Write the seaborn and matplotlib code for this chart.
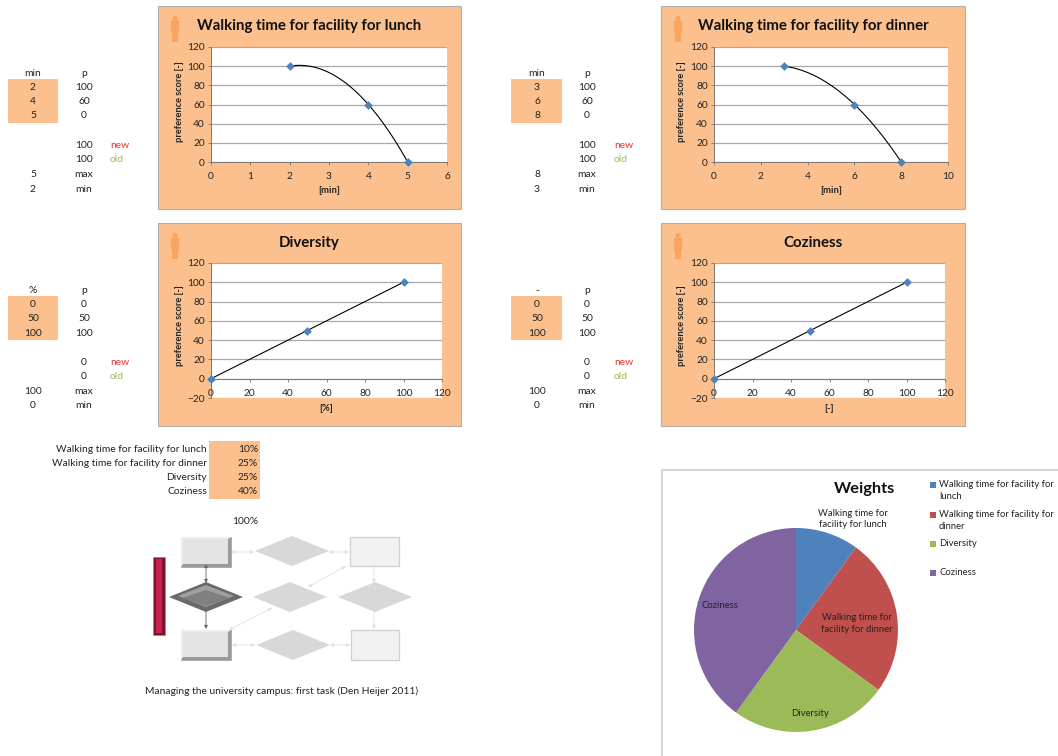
import numpy as np
import matplotlib
matplotlib.use("Agg")
import matplotlib.pyplot as plt
from matplotlib.patches import Rectangle, Polygon, Circle, FancyBboxPatch
import seaborn as sns

sns.set_theme(style="white")
plt.rcParams["font.family"] = ["Lato", "DejaVu Sans"]

W, H = 1058, 756
PANEL = "#FBC08D"
ICON = "#F9A55F"
TEXT = "#222222"
BLUE = "#4F81BD"
CELL_SIZE = 7.35

# Preference curves
lunch_min = [2, 4, 5]
lunch_score = [100, 60, 0]
dinner_min = [3, 6, 8]
dinner_score = [100, 60, 0]
diversity_pct = [0, 50, 100]
diversity_score = [0, 50, 100]
coziness_val = [0, 50, 100]
coziness_score = [0, 50, 100]

# Weights
criteria = ["Walking time for facility for lunch", "Walking time for facility for dinner",
            "Diversity", "Coziness"]
weights = [10, 25, 25, 40]
pie_colors = ["#4F81BD", "#C0504D", "#9BBB59", "#8064A2"]

# Side tables next to each chart
lunch_extra = [100, 100, 5, 2]
dinner_extra = [100, 100, 8, 3]
diversity_extra = [0, 0, 100, 0]
coziness_extra = [0, 0, 100, 0]


def pixel_axes(x0, y0, x1, y1, **kw):
    return fig.add_axes([x0 / W, 1 - y1 / H, (x1 - x0) / W, (y1 - y0) / H], **kw)


def trend_curve(xs, ys, degree):
    """Polynomial trendline through the points, spanning their x range."""
    coeffs = np.polyfit(xs, ys, degree)
    grid = np.linspace(min(xs), max(xs), 120)
    return grid, np.polyval(coeffs, grid)


def person(cx, top):
    bg.add_patch(Circle((cx, top + 2.5), 2.6, color=ICON, lw=0))
    bg.add_patch(FancyBboxPatch((cx - 3.5, top + 5.5), 7, 11, boxstyle="round,pad=0.6",
                                color=ICON, lw=0))
    bg.add_patch(Rectangle((cx - 2.6, top + 16), 5.2, 9.5, color=ICON, lw=0))


def chart(panel, plot, title, title_x, xs, ys, xlim, xstep, ylim, xlabel, xlabel_x, degree):
    px0, py0, px1, py1 = panel
    bg.add_patch(Rectangle((px0, py0), px1 - px0, py1 - py0, fc=PANEL, ec="#B5AEA6", lw=0.8))
    person(px0 + 17, py0 + 10)
    bg.text(title_x, py0 + 20, title, ha="center", va="center", fontsize=10.8,
            fontweight="bold", color="#111111")
    ax = pixel_axes(*plot, zorder=2)
    ax.set_facecolor("white")
    cx, cy = trend_curve(xs, ys, degree)
    sns.lineplot(x=cx, y=cy, ax=ax, color="black", lw=0.8, sort=False, estimator=None, zorder=4)
    sns.scatterplot(x=xs, y=ys, ax=ax, marker="D", color=BLUE, s=20, linewidth=0,
                    zorder=5, clip_on=False)
    ax.set_xlim(*xlim)
    ax.set_ylim(*ylim)
    ax.set_xticks(np.arange(xlim[0], xlim[1] + xstep / 2, xstep))
    ax.set_yticks(np.arange(ylim[0], ylim[1] + 1, 20))
    ax.grid(axis="y", color="#A8A8A8", lw=0.9)
    ax.set_axisbelow(True)
    ax.tick_params(axis="y", labelsize=7.3, colors=TEXT, length=2.5, width=0.6,
                   color="#777777", pad=2, left=True)
    ax.tick_params(axis="x", labelsize=7.3, colors=TEXT, length=2.5, width=0.6,
                   color="#777777", pad=5, bottom=True)
    for name in ("top", "right"):
        ax.spines[name].set_visible(False)
    for name in ("left", "bottom"):
        ax.spines[name].set_color("#777777")
        ax.spines[name].set_linewidth(0.7)
    ax.spines["bottom"].set_position(("data", 0))
    ax.set_xlabel("")
    ax.set_ylabel("")
    bg.text(px0 + 21, (plot[1] + plot[3]) / 2 - (3 if ylim[0] == 0 else 5), "preference score [-]",
            rotation=90, ha="center", va="center", fontsize=6.7, fontweight="bold", color=TEXT)
    bg.text(xlabel_x, plot[3] + 28.5 if ylim[0] == 0 else plot[3] + 10.5, xlabel, ha="center",
            va="center", fontsize=6.8, fontweight="bold", color=TEXT)
    return ax


def side_table(x_a, x_b, x_c, cell, head, col_a, col_b, extra, y_rows, y_extra):
    bg.add_patch(Rectangle((cell[0], cell[1]), cell[2] - cell[0], cell[3] - cell[1], fc=PANEL, lw=0))
    kw = dict(ha="center", va="center", fontsize=CELL_SIZE, color=TEXT)
    bg.text(x_a, y_rows[0], head, **kw)
    bg.text(x_b, y_rows[0], "p", **kw)
    for y, a, b in zip(y_rows[1:], col_a, col_b):
        bg.text(x_a, y, str(a), **kw)
        bg.text(x_b, y, str(b), **kw)
    bg.text(x_b, y_extra[0], str(extra[0]), **kw)
    bg.text(x_b, y_extra[1], str(extra[1]), **kw)
    bg.text(x_a, y_extra[2], str(extra[2]), **kw)
    bg.text(x_a, y_extra[3], str(extra[3]), **kw)
    bg.text(x_b, y_extra[2], "max", **kw)
    bg.text(x_b, y_extra[3], "min", **kw)
    bg.text(x_c, y_extra[0], "new", ha="left", va="center", fontsize=CELL_SIZE, color="#F03030")
    bg.text(x_c, y_extra[1], "old", ha="left", va="center", fontsize=CELL_SIZE, color="#9BBB59")


def bevel_box(x0, y0, x1, y1):
    bg.add_patch(Rectangle((x0, y0), x1 - x0, y1 - y0, fc="#9A9A9A", ec="#A8A8A8", lw=0.6))
    bg.add_patch(Polygon([(x0, y0), (x1, y0), (x1 - 3, y0 + 2), (x0 + 2, y0 + 2), (x0 + 2, y1 - 3), (x0, y1)],
                         fc="#EDEDED", lw=0))
    bg.add_patch(Rectangle((x0 + 2, y0 + 2), x1 - x0 - 5, y1 - y0 - 5, fc="#E3E3E3", lw=0))


def diamond(cx, cy, hw, hh, fc="#D8D8D8"):
    bg.add_patch(Polygon([(cx - hw, cy), (cx, cy - hh), (cx + hw, cy), (cx, cy + hh)], fc=fc, lw=0))


def pale_box(x0, y0, x1, y1):
    bg.add_patch(Rectangle((x0, y0), x1 - x0, y1 - y0, fc="#F2F2F2", ec="#CFCFCF", lw=0.9))


def link(a, b, color="#E0E0E0", style="<|-|>"):
    bg.annotate("", xy=b, xytext=a, arrowprops=dict(arrowstyle=style, color=color, lw=0.6,
                                                    mutation_scale=5, shrinkA=0, shrinkB=0))


fig = plt.figure(figsize=(W / 100, H / 100), dpi=100, facecolor="white")
bg = fig.add_axes([0, 0, 1, 1], zorder=0)
bg.set_xlim(0, W)
bg.set_ylim(H, 0)
bg.axis("off")

chart((158, 6, 461, 209), (211, 47, 447, 162), "Walking time for facility for lunch", 309,
      lunch_min, lunch_score, (0, 6), 1, (0, 120), "[min]", 329, 2)
chart((661, 6, 965, 209), (714, 47, 948, 162), "Walking time for facility for dinner", 813,
      dinner_min, dinner_score, (0, 10), 2, (0, 120), "[min]", 831, 2)
chart((158, 223, 461, 426), (211, 263, 442, 398), "Diversity", 309,
      diversity_pct, diversity_score, (0, 120), 20, (-20, 120), "[%]", 326, 1)
chart((661, 223, 965, 426), (714, 263, 945, 398), "Coziness", 813,
      coziness_val, coziness_score, (0, 120), 20, (-20, 120), "[-]", 829, 1)

side_table(33, 84, 110, (8, 79, 58, 123), "min", lunch_min, lunch_score, lunch_extra,
           [73.5, 87.5, 102, 116], [145.5, 160, 174.5, 189])
side_table(537, 587, 614, (511, 79, 562, 123), "min", dinner_min, dinner_score, dinner_extra,
           [73.5, 87.5, 102, 116], [145.5, 160, 174.5, 189])
side_table(33, 84, 110, (8, 296, 58, 340), "%", diversity_pct, diversity_score, diversity_extra,
           [290.5, 304.5, 318.5, 333.5], [362.5, 376.5, 391.5, 405.5])
side_table(537, 587, 614, (511, 296, 562, 340), "-", coziness_val, coziness_score, coziness_extra,
           [290.5, 304.5, 318.5, 333.5], [362.5, 376.5, 391.5, 405.5])

# Weights table
bg.add_patch(Rectangle((209, 441), 51, 58, fc=PANEL, lw=0))
for y, name, w in zip([449.5, 463.5, 478, 492], criteria, weights):
    bg.text(207, y, name, ha="right", va="center", fontsize=CELL_SIZE, color=TEXT)
    bg.text(258, y, f"{w}%", ha="right", va="center", fontsize=CELL_SIZE, color=TEXT)
bg.text(258, 521, f"{sum(weights)}%", ha="right", va="center", fontsize=CELL_SIZE, color=TEXT)

# Campus management flow diagram
link((231, 552), (254, 552))
link((329, 552), (349, 552))
link((232, 645), (255, 645))
link((330, 645), (350, 645))
link((374, 564), (374, 583), style="-|>")
link((374, 612), (374, 629), style="-|>")
link((346, 566), (308, 587))
link((229, 630), (272, 608))
link((206, 564), (206, 583), color="#666666")
link((206, 612), (206, 629), color="#666666", style="-|>")
diamond(292, 551, 37, 15)
diamond(290, 597, 37, 15)
diamond(375, 597, 37, 15)
diamond(293, 645, 37, 15)
pale_box(350, 537, 399, 566)
pale_box(351, 630, 399, 660)
bevel_box(181, 537, 231, 567)
bevel_box(181, 630, 231, 660)
diamond(206, 597, 37, 15, fc="#6A6A6A")
diamond(206, 596, 28, 11, fc="#A0A0A0")
diamond(206, 598, 24, 8, fc="#808080")
bg.add_patch(Rectangle((153, 557), 12, 78, fc="#7E1030", ec="#B08090", lw=0.6))
bg.add_patch(Rectangle((156, 559), 6, 74, fc="#C8234F", lw=0))
bg.text(145, 691.5, "Managing the university campus: first task (Den Heijer 2011)", ha="left",
        va="center", fontsize=CELL_SIZE, color=TEXT)

# Weights panel and pie
bg.plot([661.5, 661.5, W], [H, 469.5, 469.5], color="#C8C8C8", lw=1.1, solid_capstyle="butt")
pie_ax = pixel_axes(694, 528, 898, 732, zorder=2)
pie_ax.pie(weights, colors=pie_colors, startangle=90, counterclock=False, radius=1.0,
           wedgeprops=dict(linewidth=0))
pie_ax.set_xlim(-1, 1)
pie_ax.set_ylim(-1, 1)

top = fig.add_axes([0, 0, 1, 1], zorder=5)
top.set_xlim(0, W)
top.set_ylim(H, 0)
top.axis("off")
top.patch.set_alpha(0)
top.text(864, 489, "Weights", ha="center", va="center", fontsize=11.8, fontweight="bold",
         color="#111111")
kw = dict(ha="center", va="center", fontsize=6.8, color=TEXT, linespacing=1.3)
top.text(853, 519, "Walking time for\nfacility for lunch", **kw)
top.text(857, 623.5, "Walking time for\nfacility for dinner", **kw)
top.text(810, 713, "Diversity", **kw)
top.text(720, 606, "Coziness", **kw)

legend_names = ["Walking time for facility for\nlunch", "Walking time for facility for\ndinner",
                "Diversity", "Coziness"]
for y, name, col in zip([485, 515, 544, 573], legend_names, pie_colors):
    top.add_patch(Rectangle((930, y - 3), 6, 6, fc=col, lw=0))
    top.text(939, y - 5, name, ha="left", va="top", fontsize=6.8, color=TEXT, linespacing=1.4)

fig.savefig("out.png", dpi=100, facecolor="white")
